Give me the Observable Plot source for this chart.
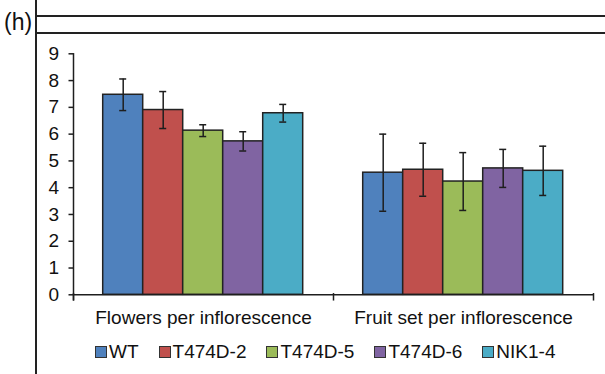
<!DOCTYPE html>
<html>
<head>
<meta charset="utf-8">
<script src="https://cdn.jsdelivr.net/npm/d3@7"></script>
<script src="https://cdn.jsdelivr.net/npm/@observablehq/plot@0.6"></script>
<style>
  html, body { margin: 0; padding: 0; background: #fff; }
  #panel { position: relative; width: 605px; height: 374px; overflow: hidden; font-family: "Liberation Sans", Arial, sans-serif; color: #111; }
  #chart { position: absolute; left: 0; top: 0; }
  .rule { position: absolute; background: #222; z-index: 2; }
  #tag { position: absolute; left: 4px; top: 9px; font-size: 23px; z-index: 1; }
  #legend { position: absolute; left: 95px; top: 335px; }
  #legend .lg-swatch { margin-right: 20px !important; }
  #legend .lg-swatch > svg { margin-right: 2px !important; box-sizing: border-box; border: 1.3px solid #333; }
</style>
</head>
<body>
<div id="panel">
  <div id="chart"></div>
  <div id="tag">(h)</div>
  <div class="rule" style="left:35px;top:0;width:2px;height:374px"></div>
  <div class="rule" style="left:36px;top:14.5px;width:569px;height:2px"></div>
  <div class="rule" style="left:36px;top:32px;width:569px;height:2px"></div>
  <div id="legend"></div>
</div>
<script>
// Traits measured per inflorescence, and the genotypes compared
const categories = ["Flowers per inflorescence", "Fruit set per inflorescence"];
const genotypes = ["WT", "T474D-2", "T474D-5", "T474D-6", "NIK1-4"];

// Means and error-bar half-widths for each trait, in genotype order
const flowersMean = [7.47, 6.90, 6.13, 5.73, 6.78];
const flowersErr  = [0.59, 0.69, 0.22, 0.36, 0.33];
const fruitMean   = [4.56, 4.67, 4.23, 4.72, 4.63];
const fruitErr    = [1.44, 0.99, 1.08, 0.71, 0.92];

const colors = ["#4f81bd", "#c0504d", "#9bbb59", "#8064a2", "#4bacc6"];
const yTicks = [0, 1, 2, 3, 4, 5, 6, 7, 8, 9];

const rows = [];
genotypes.forEach((g, i) => rows.push({category: categories[0], genotype: g, mean: flowersMean[i], err: flowersErr[i]}));
genotypes.forEach((g, i) => rows.push({category: categories[1], genotype: g, mean: fruitMean[i], err: fruitErr[i]}));

const ink = "#1e1e1e";
const font = "'Liberation Sans', Arial, sans-serif";

const chart = Plot.plot({
  width: 605,
  height: 338,
  marginTop: 53.3,
  marginBottom: 43.7,
  marginLeft: 72.3,
  marginRight: 12.3,
  style: {background: "transparent", fontFamily: font, color: "#111"},
  fx: {domain: categories, padding: 0, label: null},
  x: {domain: genotypes, paddingInner: 0, paddingOuter: 0.75, axis: null},
  y: {domain: [0, 9], label: null},
  color: {domain: genotypes, range: colors},
  marks: [
    Plot.barY(rows, {fx: "category", x: "genotype", y: "mean", fill: "genotype", stroke: "#222", strokeWidth: 1.5}),
    Plot.ruleX(rows, {fx: "category", x: "genotype", y1: d => d.mean - d.err, y2: d => d.mean + d.err, stroke: ink, strokeWidth: 1.5}),
    Plot.tickY(rows, {fx: "category", x: "genotype", y: d => d.mean + d.err, stroke: ink, strokeWidth: 1.5, insetLeft: 16.5, insetRight: 16.5}),
    Plot.tickY(rows, {fx: "category", x: "genotype", y: d => d.mean - d.err, stroke: ink, strokeWidth: 1.5, insetLeft: 16.5, insetRight: 16.5}),
    Plot.ruleY([0], {stroke: ink, strokeWidth: 1.5}),
    // value axis line, running a little below the baseline
    Plot.frame({anchor: "left", facetAnchor: "left", insetBottom: -5, stroke: ink, strokeWidth: 1.5}),
    // category boundary ticks below the baseline
    Plot.frame({anchor: "left", insetTop: 240, insetBottom: -5, stroke: ink, strokeWidth: 1.5}),
    Plot.frame({anchor: "right", facetAnchor: "right", insetTop: 240, insetBottom: -5, stroke: ink, strokeWidth: 1.5}),
    Plot.axisY({ticks: yTicks, tickFormat: d3.format("d"), tickSize: 4.5, tickPadding: 10, fontSize: 19, stroke: ink, strokeWidth: 1.5}),
    Plot.axisFx({anchor: "bottom", tickSize: 0, tickPadding: 16, fontSize: 19, label: null})
  ]
});
document.getElementById("chart").appendChild(chart);

const legend = Plot.legend({
  color: {domain: genotypes, range: colors},
  legend: "swatches",
  swatchSize: 12,
  className: "lg",
  style: {fontSize: "19px", fontFamily: font, color: "#111"}
});
document.getElementById("legend").appendChild(legend);
</script>
</body>
</html>
